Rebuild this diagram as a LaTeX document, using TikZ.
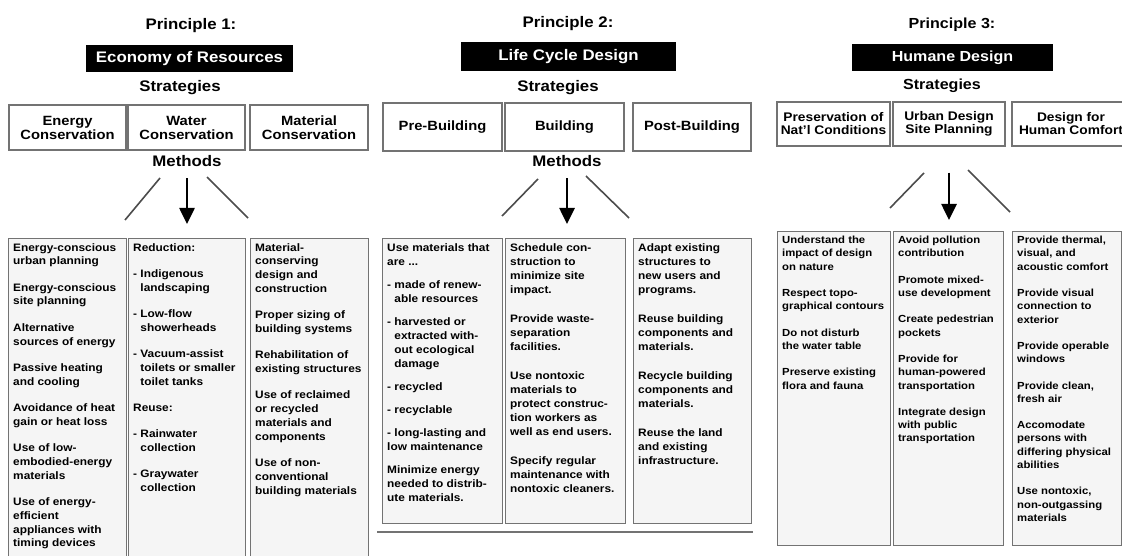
\documentclass[tikz,border=0pt]{standalone}
\usepackage{fontspec}
\setmainfont{Liberation Sans}[FakeStretch=1.1]
\usepackage{tikz}
\usetikzlibrary{arrows.meta}

\begin{document}
\begin{tikzpicture}[x=1pt, y=-1pt,
    head/.style={font=\bfseries\fontsize{15.3}{18}\selectfont, inner sep=1pt, anchor=base},
    headsm/.style={head, font=\bfseries\fontsize{14.6}{17}\selectfont},
    title/.style={fill=black, text=white, inner sep=0pt, anchor=center},
    stratbox/.style={draw=black!55, line width=1.3pt, fill=white, align=center, inner sep=2pt,
        font=\bfseries\fontsize{13.4}{14}\selectfont},
    methbox/.style={draw=black!55, line width=1.3pt, fill=black!4, anchor=north west, inner sep=0pt},
    methtext/.style={anchor=north west, align=left, inner sep=5pt,
        font=\bfseries\fontsize{10.8}{13.8}\selectfont},
    methtextb/.style={methtext, font=\bfseries\fontsize{10.8}{14}\selectfont},
    methtextc/.style={methtext, font=\bfseries\fontsize{10.3}{13.3}\selectfont},
    bigarrow/.style={line width=2.6pt, -{Triangle[length=16pt,width=15pt]}},
    slant/.style={draw=black!70, line width=1.6pt}
]
    % Page
    \fill[white] (0,0) rectangle (1122,556);
    \useasboundingbox (0,0) rectangle (1122,556);

    % ---------------- Principle 1 ----------------
    \node[head] (p1) at (191,30) {Principle 1:};
    \node[head, title, minimum width=207pt, minimum height=27pt] (t1) at (189.5,58.5) {Economy of Resources};
    \node[head] (st1) at (180,92) {Strategies};

    \node[stratbox, minimum width=117pt, minimum height=45pt] (s1a) at (67.5,127.5) {Energy\\Conservation};
    \node[stratbox, minimum width=117pt, minimum height=45pt] (s1b) at (186.5,127.5) {Water\\Conservation};
    \node[stratbox, minimum width=118pt, minimum height=45pt] (s1c) at (309,127.5) {Material\\Conservation};

    \node[head] (meth1) at (187,167) {Methods};

    \node[methbox, minimum width=118pt, minimum height=320pt] (m1a) at (8,238) {};
    \node[methbox, minimum width=117pt, minimum height=320pt] (m1b) at (128,238) {};
    \node[methbox, minimum width=118pt, minimum height=320pt] (m1c) at (250,238) {};

    \node[methtext] (x1a) at (m1a.north west) {Energy-conscious\\urban planning\\[12.5pt]
        Energy-conscious\\site planning\\[12.5pt]
        Alternative\\sources of energy\\[12.5pt]
        Passive heating\\and cooling\\[12.5pt]
        Avoidance of heat\\gain or heat loss\\[12.5pt]
        Use of low-\\embodied-energy\\materials\\[12.5pt]
        Use of energy-\\efficient\\appliances with\\timing devices};
    \node[methtext] (x1b) at (m1b.north west) {Reduction:\\[12.5pt]
        - Indigenous\\\phantom{- }landscaping\\[12.5pt]
        - Low-flow\\\phantom{- }showerheads\\[12.5pt]
        - Vacuum-assist\\\phantom{- }toilets or smaller\\\phantom{- }toilet tanks\\[12.5pt]
        Reuse:\\[12.5pt]
        - Rainwater\\\phantom{- }collection\\[12.5pt]
        - Graywater\\\phantom{- }collection};
    \node[methtext] (x1c) at (m1c.north west) {Material-\\conserving\\design and\\construction\\[12.5pt]
        Proper sizing of\\building systems\\[12.5pt]
        Rehabilitation of\\existing structures\\[12.5pt]
        Use of reclaimed\\or recycled\\materials and\\components\\[12.5pt]
        Use of non-\\conventional\\building materials};

    % arrow and side strokes
    \coordinate (a1l) at (160,178); \coordinate (b1l) at (125,220);
    \coordinate (a1r) at (207,177); \coordinate (b1r) at (248,218);
    \draw[slant] (a1l) -- (b1l);
    \draw[slant] (a1r) -- (b1r);
    \draw[bigarrow, shorten <=10pt, shorten >=14pt] (meth1.south) -- (meth1.south |- m1b.north);

    % ---------------- Principle 2 ----------------
    \node[head] (p2) at (568,28) {Principle 2:};
    \node[head, title, minimum width=215pt, minimum height=29pt] (t2) at (568.5,56.5) {Life Cycle Design};
    \node[head] (st2) at (558,92) {Strategies};

    \node[stratbox, minimum width=119pt, minimum height=48pt] (s2a) at (442.5,127) {Pre-Building};
    \node[stratbox, minimum width=119pt, minimum height=48pt] (s2b) at (564.5,127) {Building};
    \node[stratbox, minimum width=118pt, minimum height=48pt] (s2c) at (692,127) {Post-Building};

    \node[head] (meth2) at (567,167) {Methods};

    \node[methbox, minimum width=120pt, minimum height=285pt] (m2a) at (382,238) {};
    \node[methbox, minimum width=120pt, minimum height=285pt] (m2b) at (505,238) {};
    \node[methbox, minimum width=118pt, minimum height=285pt] (m2c) at (633,238) {};

    \node[methtextb] (x2a) at (m2a.north west) {Use materials that\\are ...\\[9pt]
        - made of renew-\\\phantom{- }able resources\\[9pt]
        - harvested or\\\phantom{- }extracted with-\\\phantom{- }out ecological\\\phantom{- }damage\\[9pt]
        - recycled\\[9pt]
        - recyclable\\[9pt]
        - long-lasting and\\low maintenance\\[9pt]
        Minimize energy\\needed to distrib-\\ute materials.};
    \node[methtextb] (x2b) at (m2b.north west) {Schedule con-\\struction to\\minimize site\\impact.\\[15pt]
        Provide waste-\\separation\\facilities.\\[15pt]
        Use nontoxic\\materials to\\protect construc-\\tion workers as\\well as end users.\\[15pt]
        Specify regular\\maintenance with\\nontoxic cleaners.};
    \node[methtextb] (x2c) at (m2c.north west) {Adapt existing\\structures to\\new users and\\programs.\\[15pt]
        Reuse building\\components and\\materials.\\[15pt]
        Recycle building\\components and\\materials.\\[15pt]
        Reuse the land\\and existing\\infrastructure.};

    % arrow and side strokes
    \coordinate (a2l) at (538,179); \coordinate (b2l) at (502,216);
    \coordinate (a2r) at (586,176); \coordinate (b2r) at (629,218);
    \draw[slant] (a2l) -- (b2l);
    \draw[slant] (a2r) -- (b2r);
    \draw[bigarrow, shorten <=10pt, shorten >=14pt] (meth2.south) -- (meth2.south |- m2b.north);

    % rule under the boxes
    \coordinate (r2a) at (377,532); \coordinate (r2b) at (753,532);
    \draw[black!55, line width=1.5pt] (r2a) -- (r2b);

    % ---------------- Principle 3 ----------------
    \node[headsm] (p3) at (952,29) {Principle 3:};
    \node[headsm, title, minimum width=201pt, minimum height=27pt] (t3) at (952.5,57.5) {Humane Design};
    \node[headsm] (st3) at (942,90) {Strategies};

    \node[stratbox, font=\bfseries\fontsize{12.5}{13}\selectfont, minimum width=113pt, minimum height=44pt] (s3a) at (833.5,124) {Preservation of\\Nat'l Conditions};
    \node[stratbox, font=\bfseries\fontsize{12.5}{13}\selectfont, minimum width=112pt, minimum height=44pt] (s3b) at (949,124) {Urban Design\\Site Planning};
    \node[stratbox, font=\bfseries\fontsize{12.5}{13}\selectfont, minimum width=118pt, minimum height=44pt] (s3c) at (1071,124) {Design for\\Human Comfort};

    \node[methbox, minimum width=113pt, minimum height=314pt] (m3a) at (777,231) {};
    \node[methbox, minimum width=110pt, minimum height=314pt] (m3b) at (893,231) {};
    \node[methbox, minimum width=109pt, minimum height=314pt] (m3c) at (1012,231) {};

    \node[methtextc] (x3a) at (m3a.north west) {Understand the\\impact of design\\on nature\\[13pt]
        Respect topo-\\graphical contours\\[13pt]
        Do not disturb\\the water table\\[13pt]
        Preserve existing\\flora and fauna};
    \node[methtextc] (x3b) at (m3b.north west) {Avoid pollution\\contribution\\[13pt]
        Promote mixed-\\use development\\[13pt]
        Create pedestrian\\pockets\\[13pt]
        Provide for\\human-powered\\transportation\\[13pt]
        Integrate design\\with public\\transportation};
    \node[methtextc] (x3c) at (m3c.north west) {Provide thermal,\\visual, and\\acoustic comfort\\[13pt]
        Provide visual\\connection to\\exterior\\[13pt]
        Provide operable\\windows\\[13pt]
        Provide clean,\\fresh air\\[13pt]
        Accomodate\\persons with\\differing physical\\abilities\\[13pt]
        Use nontoxic,\\non-outgassing\\materials};

    % arrow and side strokes
    \coordinate (a3l) at (924,173); \coordinate (b3l) at (890,208);
    \coordinate (a3r) at (968,170); \coordinate (b3r) at (1010,212);
    \draw[slant] (a3l) -- (b3l);
    \draw[slant] (a3r) -- (b3r);
    \draw[bigarrow, shorten <=26pt, shorten >=11pt] (s3b.south) -- (s3b.south |- m3b.north);
\end{tikzpicture}
\end{document}
